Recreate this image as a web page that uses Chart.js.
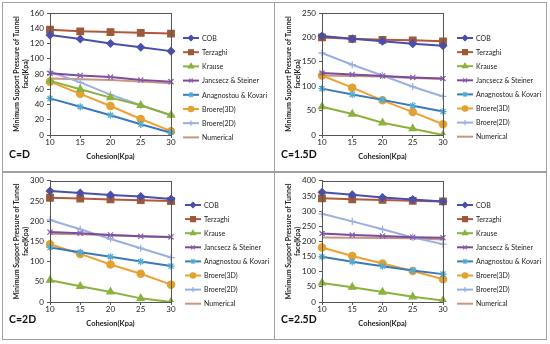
<!DOCTYPE html>
<html>
<head>
<meta charset="utf-8">
<script src="https://cdn.jsdelivr.net/npm/chart.js@4.4.1/dist/chart.umd.min.js"></script>
<style>
  body { margin: 0; background: #fff; width: 550px; height: 344px; overflow: hidden; font-family: Lato, 'Liberation Sans', sans-serif; }
  .panel { position: absolute; border: 1px solid #a0a0a0; background: #fff; }
  .panel canvas { position: absolute; left: 0; top: 0; }
  .tag { position: absolute; left: 6px; font: bold 10.5px Lato, sans-serif; color: #111; }
</style>
</head>
<body>
<div class="panel" style="left:2px;top:2px;width:271px;height:168px"><canvas id="c1" width="271" height="168"></canvas><div class="tag" style="top:145px">C=D</div></div>
<div class="panel" style="left:274px;top:2px;width:271px;height:168px"><canvas id="c2" width="271" height="168"></canvas><div class="tag" style="top:145px">C=1.5D</div></div>
<div class="panel" style="left:2px;top:172px;width:271px;height:166px"><canvas id="c3" width="271" height="166"></canvas><div class="tag" style="top:140px">C=2D</div></div>
<div class="panel" style="left:274px;top:172px;width:271px;height:166px"><canvas id="c4" width="271" height="166"></canvas><div class="tag" style="top:140px">C=2.5D</div></div>
<script>
const cohesion = ['10', '15', '20', '25', '30'];
const seriesNames = ['COB', 'Terzaghi', 'Krause', 'Jancsecz & Steiner', 'Anagnostou & Kovari', 'Broere(3D)', 'Broere(2D)', 'Numerical'];

// one row per series, same order as seriesNames
const valuesD = [
  [131, 126, 120, 115, 110],
  [138, 136, 135, 134, 133],
  [71, 60, 49, 39, 26],
  [81, 78, 76, 72, 70],
  [48, 37, 26, 14, 3],
  [70, 54, 38, 21, 5],
  [83, 69, 53, 39, 26],
  [74, 73, 72, 70, 68]
];
const values15D = [
  [203, 197, 192, 187, 183],
  [200, 197, 195, 194, 192],
  [58, 43, 25, 13, 0],
  [127, 124, 121, 118, 116],
  [95, 83, 72, 60, 48],
  [122, 97, 71, 47, 22],
  [168, 144, 122, 99, 79],
  [122, 121, 120, 117, 115]
];
const values2D = [
  [275, 270, 265, 261, 255],
  [258, 256, 254, 252, 250],
  [54, 39, 25, 9, 0],
  [173, 170, 166, 163, 161],
  [135, 123, 112, 100, 89],
  [143, 119, 93, 70, 43],
  [203, 180, 156, 133, 110],
  [169, 168, 165, 163, 160]
];
const values25D = [
  [362, 354, 345, 338, 332],
  [342, 339, 337, 334, 332],
  [63, 49, 33, 17, 5],
  [226, 221, 218, 214, 212],
  [149, 133, 118, 104, 92],
  [180, 152, 127, 102, 75],
  [291, 266, 240, 213, 191],
  [213, 212, 211, 210, 206]
];
const yMax = [160, 250, 300, 400];
const yStep = [20, 50, 50, 50];

const lineColors = ['#4a4fae', '#b0593c', '#8bb23e', '#7a4c9c', '#3b78bd', '#f0a032', '#9cb0df', '#c99483'];
const markColors = ['#4a4fae', '#9c5a3a', '#8bb23e', '#8a62b0', '#52acd0', '#e3a132', '#9cb0df', '#c99483'];
const markStyles = ['rectRot', 'rect', 'triangle', 'crossRot', 'star', 'circle', 'cross', false];
const markSizes = [3.6, 4.6, 4, 3.6, 3.6, 3.6, 3.6, 0];

// plot frame + legend drawn by hand (Excel style: line with marker)
const frame = {
  id: 'frame',
  afterDraw(chart, args, opts) {
    let a = chart.chartArea, ctx = chart.ctx;
    ctx.save();
    ctx.strokeStyle = '#555';
    ctx.lineWidth = 1;
    ctx.strokeRect(Math.round(a.left) + 0.5, Math.round(a.top) + 0.5, Math.round(a.right - a.left), Math.round(a.bottom - a.top));

    ctx.font = '7px Lato';
    ctx.textBaseline = 'middle';
    chart.data.datasets.forEach((ds, i) => {
      let y = opts.y + i * opts.step;
      let x = opts.x;
      ctx.strokeStyle = ds.borderColor;
      ctx.lineWidth = 2;
      ctx.beginPath(); ctx.moveTo(x, y); ctx.lineTo(x + 16, y); ctx.stroke();
      if (ds.pointStyle) {
        ctx.fillStyle = ds.pointBackgroundColor;
        ctx.strokeStyle = ds.pointBorderColor;
        ctx.lineWidth = 1.2;
        Chart.helpers.drawPoint(ctx, { pointStyle: ds.pointStyle, radius: ds.pointRadius * 0.75, rotation: 0, borderWidth: 1.2 }, x + 8, y);
      }
      ctx.fillStyle = '#222';
      ctx.fillText(ds.label, x + 19, y + 0.5);
    });
    ctx.restore();
  }
};

function makeChart(id, rows, k, pad, leg) {
  let datasets = rows.map((r, i) => ({
    label: seriesNames[i],
    data: r,
    borderColor: lineColors[i],
    backgroundColor: markColors[i],
    pointBorderColor: markColors[i],
    pointBackgroundColor: markColors[i],
    borderWidth: 2,
    pointStyle: markStyles[i],
    pointRadius: markSizes[i],
    pointBorderWidth: 1.3,
    tension: 0
  }));
  return new Chart(document.getElementById(id), {
    type: 'line',
    data: { labels: cohesion, datasets: datasets },
    options: {
      responsive: false,
      animation: false,
      layout: { padding: pad },
      plugins: {
        tooltip: { enabled: false },
        legend: { display: false },
        frame: leg
      },
      scales: {
        x: {
          offset: false,
          grid: { display: true, drawOnChartArea: false, drawTicks: true, tickLength: 3, color: '#555' },
          border: { color: '#555' },
          ticks: { color: '#222', font: { family: 'Lato', size: 8 }, maxRotation: 0, padding: 0 },
          title: { display: true, text: 'Cohesion(Kpa)', color: '#222', font: { family: 'Lato', size: 7.5, weight: 'bold' }, padding: { top: 0, bottom: 0 } },
          afterFit(s) { s.height = 26; }
        },
        y: {
          min: 0,
          max: yMax[k],
          grid: { display: true, drawOnChartArea: false, drawTicks: true, tickLength: 3, color: '#555' },
          border: { color: '#555' },
          ticks: { stepSize: yStep[k], color: '#222', font: { family: 'Lato', size: 8 }, padding: 3 },
          title: { display: true, text: ['Minimum Support Pressure of Tunnel', 'face(Kpa)'], color: '#222', font: { family: 'Lato', size: 7, weight: 'bold' }, padding: { top: 0, bottom: 2 } },
          afterFit(s) { s.width = 37; }
        }
      }
    },
    plugins: [frame]
  });
}

makeChart('c1', valuesD, 0, { top: 10, left: 10, right: 103, bottom: 10 }, { x: 180, y: 35, step: 14.2 });
makeChart('c2', values15D, 1, { top: 10, left: 10, right: 103, bottom: 10 }, { x: 182, y: 35, step: 14.1 });
makeChart('c3', values2D, 2, { top: 7, left: 10, right: 103, bottom: 11 }, { x: 182, y: 32, step: 14.1 });
makeChart('c4', values25D, 3, { top: 7, left: 10, right: 103, bottom: 11 }, { x: 182, y: 32, step: 14.1 });
</script>
</body>
</html>
